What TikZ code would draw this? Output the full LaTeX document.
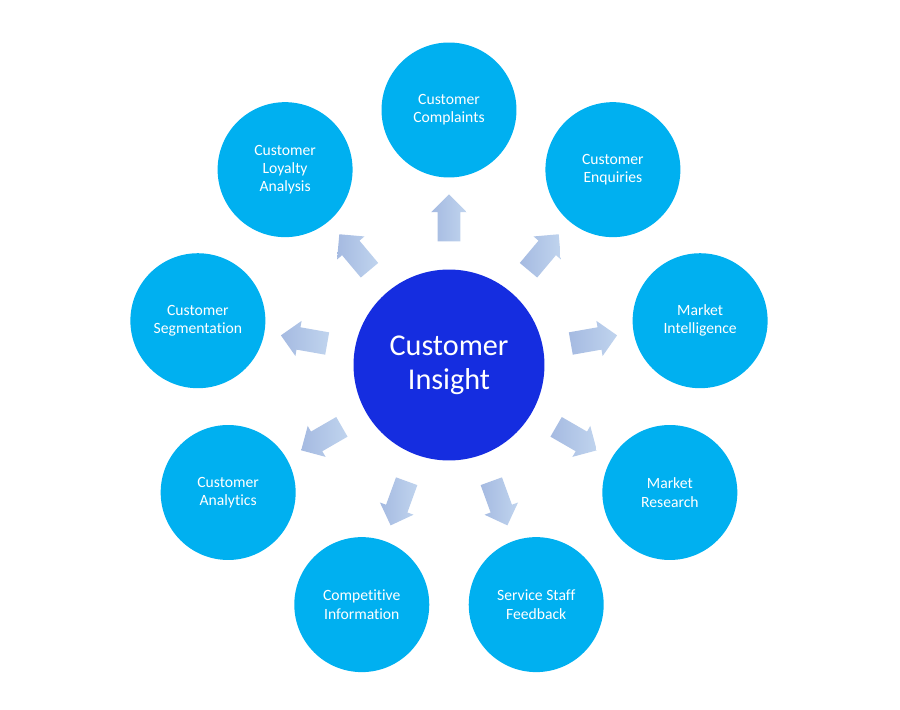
\documentclass[tikz,border=0pt]{standalone}
\usepackage{fontspec}
\setmainfont[Ligatures=NoCommon]{Carlito}
\usetikzlibrary{shapes.arrows,calc}

\definecolor{insblue}{RGB}{21,45,224}
\definecolor{topicblue}{RGB}{0,176,240}
\definecolor{arrowlight}{RGB}{192,212,238}
\definecolor{arrowdark}{RGB}{165,186,225}

\tikzset{
	topic/.style={circle,fill=topicblue,minimum size=2.7cm,inner sep=0pt,
		text=white,align=center,font=\fontsize{8.9}{10.4}\selectfont},
	insight/.style={circle,fill=insblue,minimum size=3.82cm,inner sep=0pt,
		text=white,align=center,font=\fontsize{17.2}{19.4}\selectfont},
	flowarrow/.style={single arrow,minimum height=0.94cm,minimum width=0.7cm,
		single arrow head extend=0.13cm,inner sep=0.22cm,
		left color=arrowdark,right color=arrowlight,draw=none}
}

\begin{document}
\begin{tikzpicture}[x=0.02cm,y=0.02cm]
	\useasboundingbox (0,0) rectangle (900,710);
	\node[insight] (ins) at (449,345) {Customer\\Insight};
	\foreach \k/\txt in {0/{Customer\\Complaints},1/{Customer\\Enquiries},
		2/{Market\\Intelligence},3/{Market\\Research},4/{Service Staff\\Feedback},
		5/{Competitive\\Information},6/{Customer\\Analytics},
		7/{Customer\\Segmentation},8/{Customer\\Loyalty\\Analysis}}{
		\pgfmathsetmacro\a{90-40*\k}
		\node[topic] (c\k) at ($(ins)+(\a:255)$) {\txt};
		\node[flowarrow,rotate=\a] (arr\k) at ($(ins)+(\a:141.5)$) {};
	}
\end{tikzpicture}
\end{document}
